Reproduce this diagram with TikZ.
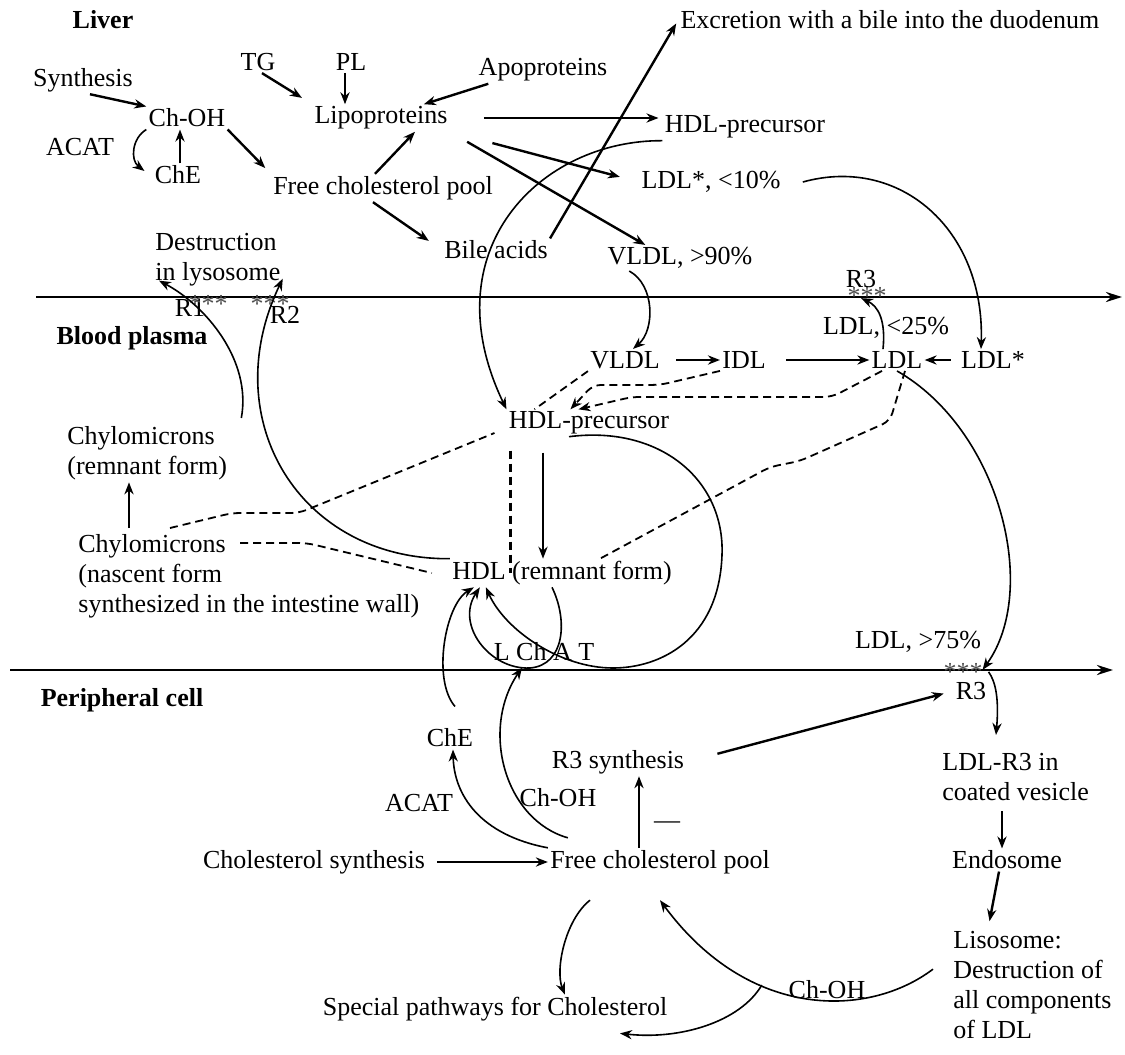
\documentclass[tikz,border=0pt]{standalone}
\usepackage{fontspec}
\setmainfont{Liberation Serif}
\usetikzlibrary{arrows.meta}

\begin{document}
\begin{tikzpicture}[x=0.5pt, y=-0.5pt,
  every node/.style={font=\fontsize{13pt}{15pt}\selectfont, inner sep=1pt},
  zone/.style={font=\fontsize{13pt}{15pt}\selectfont\bfseries},
  blk/.style={align=left, anchor=north west},
  stars/.style={text=black!70},
  arr/.style={-{Stealth[length=6pt,width=4.6pt]}, line width=1.2pt},
  carr/.style={-{Stealth[length=6pt,width=4.6pt]}, line width=0.8pt},
  dsh/.style={dash pattern=on 4pt off 2.5pt, line width=0.9pt, rounded corners=4pt},
  axis/.style={-{Stealth[length=8pt,width=5pt]}, line width=1.4pt}
]
\useasboundingbox (0,0) rectangle (1125,1055);

% borders between compartments
\draw[axis] (36,297) -- (1122,297);
\draw[axis] (10,670) -- (1113,670);

% liver
\node[zone] (liver) at (103,20) {Liver};
\node (synth) at (83,80) {Synthesis};
\node (tg) at (258,62) {TG};
\node (pl) at (351,62) {PL};
\node (apo) at (543,70) {Apoproteins};
\node (chohL) at (187,118) {Ch-OH};
\node (acatL) at (80,147) {ACAT};
\node (cheL) at (178,175) {ChE};
\node (lipo) at (381,118) {Lipoproteins};
\node (fcpL) at (383,188) {Free cholesterol pool};
\node (hdlpL) at (745,127) {HDL-precursor};
\node (ldlsL) at (711,182) {LDL*, <10\%};
\node (vldlL) at (680,258) {VLDL, >90\%};
\node (bile) at (496,250) {Bile acids};
\node (excr) at (890,20) {Excretion with a bile into the duodenum};
\node[blk] (lyso) at (153,231) {Destruction\\in lysosome};

% blood plasma
\node[zone] (plasma) at (132,338) {Blood plasma};
\node (rOne) at (190,308) {R1};
\node[stars] (starsOne) at (208,304) {***};
\node (rTwo) at (285,315) {R2};
\node[stars] (starsTwo) at (270,304) {***};
\node (rThreeT) at (861,279) {R3};
\node[stars] (starsThreeT) at (867,296) {***};
\node (ldlLt) at (886,328) {LDL, <25\%};
\node (vldl) at (625,360) {VLDL};
\node (idl) at (744,360) {IDL};
\node (ldl) at (897,360) {LDL};
\node (ldls) at (993,360) {LDL*};
\node (hdlp) at (589,423) {HDL-precursor};
\node[blk] (chyloR) at (65,424) {Chylomicrons\\(remnant form)};
\node[blk] (chyloN) at (76,532) {Chylomicrons\\(nascent form\\synthesized in the intestine wall)};
\node (hdlr) at (562,573) {HDL (remnant form)};
\node (lcat) at (544,652) {L Ch A T};
\node (ldlGt) at (918,642) {LDL, >75\%};
\node[stars] (starsThreeB) at (963,672) {***};
\node (rThreeB) at (971,691) {R3};

% peripheral cell
\node[zone] (periph) at (122,700) {Peripheral cell};
\node (cheP) at (450,738) {ChE};
\node (acatP) at (419,803) {ACAT};
\node (chohP) at (558,798) {Ch-OH};
\node (rsyn) at (618,762) {R3 synthesis};
\node (minus) at (667,825) {\textemdash};
\node (csyn) at (314,862) {Cholesterol synthesis};
\node (fcp) at (660,862) {Free cholesterol pool};
\node (special) at (495,1009) {Special pathways for Cholesterol};
\node (chohB) at (827,990) {Ch-OH};
\node[blk] (vesicle) at (940,751) {LDL-R3 in\\coated vesicle};
\node (endo) at (1007,860) {Endosome};
\node[blk] (lisos) at (951,929) {Lisosome:\\Destruction of\\all components\\of LDL};

% liver arrows
\draw[arr] ([xshift=3.5pt]synth.south) -- (chohL.north west);
\draw[carr] (chohL.south west) .. controls (132,138) and (130,160) .. ([xshift=-4pt,yshift=2pt]cheL.west);
\draw[arr] ([xshift=1pt]cheL.north) -- ([xshift=1pt]cheL.north |- chohL.south);
\draw[arr, shorten >=4pt] (chohL.south east) -- (fcpL.north west);
\draw[arr, shorten >=6pt] ([xshift=2pt]tg.south) -- (lipo.north west);
\draw[arr] ([xshift=-3pt]pl.south) -- ([xshift=-3pt]pl.south |- lipo.north);
\draw[arr] ([xshift=6pt]apo.south west) -- ([xshift=-13pt]lipo.north east);
\draw[arr, shorten <=17pt, shorten >=2pt] (lipo.east) -- (lipo.east -| hdlpL.west);
\draw[arr, shorten <=22pt, shorten >=10pt] (lipo.south east) -- (ldlsL.west);
\draw[arr, shorten <=10pt] (lipo.south east) -- ([xshift=20pt]vldlL.north west);
\draw[arr] ([xshift=-4pt]fcpL.north) -- ([xshift=17pt]lipo.south);
\draw[arr, shorten >=8pt] ([xshift=-5pt]fcpL.south) -- (bile.west);
\draw[arr, shorten >=2pt] (bile.north east) -- (excr.west);

% from liver into plasma
\draw[carr] (hdlpL.south west) .. controls (540,140) and (430,250) .. (hdlp.north west);
\draw[carr] ([xshift=12pt]vldlL.south west) .. controls (655,285) and (655,330) .. ([xshift=4pt]vldl.north);
\draw[carr] ([xshift=10pt]ldlsL.east) .. controls (900,155) and (985,230) .. ([xshift=-6pt]ldls.north);

% plasma
\draw[arr, shorten <=7pt] (vldl.east) -- (idl.west);
\draw[arr, shorten <=9pt] (idl.east) -- (ldl.west);
\draw[arr, shorten <=4pt] (ldls.west) -- (ldl.east);
\draw[carr] ([xshift=-7pt]ldl.north) .. controls (886,320) and (878,306) .. ([yshift=-4pt]rThreeT.south);
\draw[carr] (ldl.south) .. controls (1000,430) and (1040,590) .. ([xshift=-3pt,yshift=5pt]rThreeB.north east);
\draw[carr] ([yshift=4pt]rThreeB.north east) .. controls (996,682) and (999,700) .. ([xshift=28pt,yshift=8pt]vesicle.north west);
\draw[arr, shorten <=8pt] ([xshift=-23pt]hdlp.south) -- ([xshift=-23pt]hdlp.south |- hdlr.north);
\draw[dsh, line width=1.3pt] ([xshift=2pt,yshift=-7pt]hdlp.south west) -- ([xshift=2pt]hdlp.south west |- hdlr.center);
\draw[carr] ([xshift=-10pt]hdlp.south) .. controls (660,425) and (725,480) .. (722,555)
  .. controls (719,640) and (660,668) .. (613,668)
  .. controls (560,668) and (505,630) .. ([xshift=18pt]hdlr.south west);
\draw[carr] ([xshift=-5pt]hdlr.south) .. controls (568,620) and (565,665) .. (530,668)
  .. controls (490,670) and (455,625) .. ([xshift=15pt]hdlr.south west);
\draw[carr] (hdlr.north west) .. controls (300,560) and (215,420) .. ([yshift=5pt]lyso.south east);
\draw[carr] ([xshift=6pt,yshift=3pt]chyloR.north east) .. controls (252,360) and (205,305) .. ([xshift=3pt,yshift=4pt]lyso.south west);
\draw[arr, shorten <=2pt] ([xshift=26.5pt]chyloN.north west) -- ([xshift=26.5pt]chyloN.north west |- chyloR.south);

% dashed links
\draw[dsh] ([xshift=47pt,yshift=2pt]chyloN.north west) -- ++(31pt,7.5pt) -- ++(33.5pt,0pt) -- ([xshift=-6pt,yshift=-5pt]hdlp.west);
\draw[dsh] ([xshift=82pt,yshift=-5.5pt]chyloN.north west) -- ++(33.5pt,0pt) -- ([xshift=-9pt]hdlr.west);
\draw[dsh] (vldl.south west) -- ([xshift=14pt]hdlp.north west);
\draw[dsh, -{Stealth[length=6pt,width=4.6pt]}] (idl.south west) -- ++(-30pt,-7pt) -- ++(-33.5pt,0pt) -- ([xshift=32pt]hdlp.north west);
\draw[dsh, -{Stealth[length=6pt,width=4.6pt]}] ([xshift=-7.5pt]ldl.south) -- ++(-25pt,-13pt) -- ++(-100pt,0pt) -- ([xshift=36pt]hdlp.north west);
\draw[dsh] ([xshift=4pt]ldl.south) -- ++(-7.5pt,-25pt) -- ++(-45pt,-20pt) -- ++(-15pt,-3pt) -- ([xshift=19pt]hdlr.north);

% peripheral cell
\draw[carr] ([xshift=2.5pt,yshift=10pt]cheP.north) .. controls (432,680) and (445,605) .. ([xshift=12pt]hdlr.south west);
\draw[carr] ([xshift=10pt,yshift=5pt]fcp.north west) .. controls (505,820) and (480,730) .. ([xshift=-11pt,yshift=-2pt]lcat.south);
\draw[carr] (fcp.north west) .. controls (480,835) and (454,795) .. ([xshift=1.5pt]cheP.south);
\draw[arr, shorten <=5pt] (csyn.east) -- (fcp.west);
\draw[arr] ([xshift=-10.5pt]fcp.north) -- ([xshift=-10.5pt]fcp.north |- rsyn.south);
\draw[arr, shorten <=16pt, shorten >=5pt] (rsyn.east) -- (rThreeB.west);
\draw[carr] ([xshift=-35pt,yshift=-12pt]fcp.south) .. controls (565,920) and (555,970) .. ([xshift=35pt]special.north);
\draw[carr] ([xshift=-9pt,yshift=8pt]lisos.west) .. controls (870,1017) and (750,1022) .. ([yshift=-12pt]fcp.south) coordinate[pos=0.65] (branch);
\draw[carr] (branch) .. controls (740,1022) and (680,1040) .. ([xshift=62.5pt,yshift=-5pt]special.south);
\draw[arr, shorten <=4pt] ([xshift=31pt]vesicle.south west) -- ([xshift=31pt]vesicle.south west |- endo.north);
\draw[arr, shorten >=4pt] ([xshift=-4pt]endo.south) -- ([xshift=18.5pt]lisos.north west);
\end{tikzpicture}
\end{document}
